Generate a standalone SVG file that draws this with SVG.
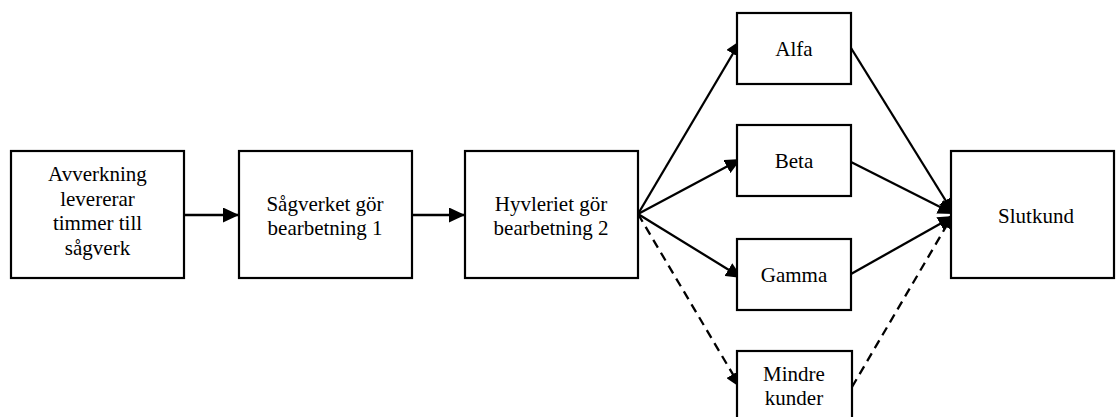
<svg xmlns="http://www.w3.org/2000/svg" width="1116" height="417" viewBox="0 0 1116 417">
  <defs>
    <style>
      .box { fill: #ffffff; stroke: #000000; stroke-width: 2.2; }
      .lbl { font-family: "Liberation Serif", "Times New Roman", serif; font-size: 21px; fill: #000000; text-anchor: middle; }
      .edge { fill: none; stroke: #000000; stroke-width: 2.3; }
      .dash { stroke-dasharray: 9 6; }
    </style>
    <marker id="head" markerUnits="userSpaceOnUse" markerWidth="16" markerHeight="15" refX="16" refY="7.5" orient="auto">
      <path d="M0,0 L16,7.5 L0,15 Z" fill="#000000"/>
    </marker>
  </defs>

  <rect width="1116" height="417" fill="#ffffff"/>

  <!-- connectors (drawn first so the boxes cover the arrow tips) -->
  <g id="connectors">
    <line class="edge" x1="184" y1="215" x2="239" y2="215" marker-end="url(#head)"/>
    <line class="edge" x1="412" y1="215" x2="465" y2="215" marker-end="url(#head)"/>
    <line class="edge" x1="638" y1="214" x2="741" y2="40" marker-end="url(#head)"/>
    <line class="edge" x1="638" y1="214" x2="741" y2="159" marker-end="url(#head)"/>
    <line class="edge" x1="638" y1="214" x2="742" y2="278" marker-end="url(#head)"/>
    <line class="edge dash" x1="638" y1="214" x2="741" y2="388" marker-end="url(#head)"/>
    <line class="edge" x1="851" y1="48" x2="954" y2="214" marker-end="url(#head)"/>
    <line class="edge" x1="851" y1="162" x2="954" y2="214" marker-end="url(#head)"/>
    <line class="edge" x1="851" y1="274" x2="954" y2="216" marker-end="url(#head)"/>
    <line class="edge dash" x1="852" y1="387" x2="954" y2="213" marker-end="url(#head)"/>
  </g>

  <g id="avverkning">
    <rect class="box" x="11" y="151" width="173" height="127"/>
    <text class="lbl" x="97.5" y="181">Avverkning</text>
    <text class="lbl" x="97.5" y="205.5">levererar</text>
    <text class="lbl" x="97.5" y="230">timmer till</text>
    <text class="lbl" x="97.5" y="254.5">sågverk</text>
  </g>

  <g id="sagverk">
    <rect class="box" x="239" y="151" width="173" height="127"/>
    <text class="lbl" x="325" y="211">Sågverket gör</text>
    <text class="lbl" x="325" y="235">bearbetning 1</text>
  </g>

  <g id="hyvleri">
    <rect class="box" x="465" y="151" width="173" height="127"/>
    <text class="lbl" x="551" y="211">Hyvleriet gör</text>
    <text class="lbl" x="551" y="235">bearbetning 2</text>
  </g>

  <g id="alfa">
    <rect class="box" x="737" y="13" width="114" height="71"/>
    <text class="lbl" x="794" y="56">Alfa</text>
  </g>

  <g id="beta">
    <rect class="box" x="737" y="125" width="114" height="71"/>
    <text class="lbl" x="794" y="168">Beta</text>
  </g>

  <g id="gamma">
    <rect class="box" x="737" y="239" width="114" height="71"/>
    <text class="lbl" x="794" y="282">Gamma</text>
  </g>

  <g id="mindre-kunder">
    <rect class="box" x="737" y="351" width="115" height="80"/>
    <text class="lbl" x="794" y="381">Mindre</text>
    <text class="lbl" x="794" y="405">kunder</text>
  </g>

  <g id="slutkund">
    <rect class="box" x="951" y="151" width="163" height="127"/>
    <text class="lbl" x="1036" y="223">Slutkund</text>
  </g>
</svg>
